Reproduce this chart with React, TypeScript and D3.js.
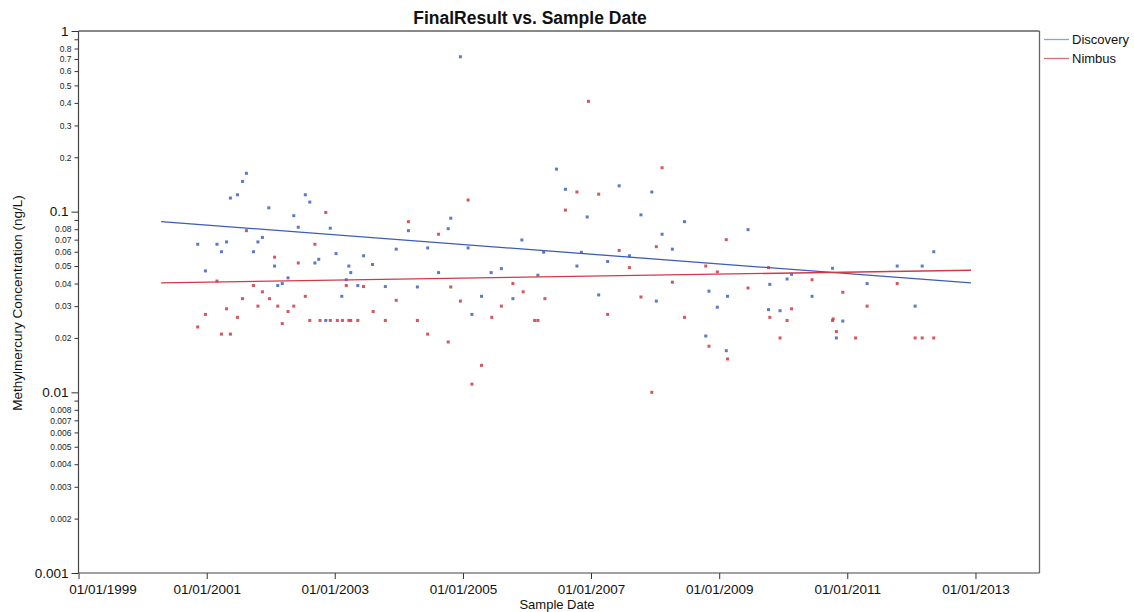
import * as d3 from "d3";
import { useEffect, useRef } from "react";

// sample dates as decimal years
const discoveryYears = [
  2000.86, 2000.98, 2001.16, 2001.23, 2001.31, 2001.37, 2001.48, 2001.56, 2001.62, 2001.73,
  2001.8, 2001.87, 2001.97, 2002.06, 2002.11, 2002.18, 2002.27, 2002.36, 2002.43, 2002.54,
  2002.61, 2002.69, 2002.75, 2002.86, 2002.93, 2003.02, 2003.11, 2003.18, 2003.22, 2003.25,
  2003.36, 2003.45, 2003.59, 2003.79, 2003.96, 2004.15, 2004.29, 2004.45, 2004.62, 2004.77,
  2004.81, 2004.96, 2005.08, 2005.14, 2005.29, 2005.44, 2005.6, 2005.78, 2005.92, 2006.17,
  2006.26, 2006.46, 2006.6, 2006.78, 2006.85, 2006.94, 2007.12, 2007.26, 2007.44, 2007.6,
  2007.78, 2007.95, 2008.02, 2008.11, 2008.27, 2008.46, 2008.79, 2008.84, 2008.97, 2009.11,
  2009.13, 2009.45, 2009.77, 2009.79, 2009.95, 2010.06, 2010.13, 2010.45, 2010.77, 2010.83,
  2010.93, 2011.31, 2011.78, 2012.06, 2012.17, 2012.35,
];
const discoveryValues = [
  0.066, 0.047, 0.066, 0.06, 0.068, 0.119, 0.124, 0.147, 0.163, 0.06,
  0.068, 0.072, 0.105, 0.05, 0.039, 0.04, 0.043, 0.095, 0.082, 0.124,
  0.113, 0.052, 0.0545, 0.025, 0.081, 0.0586, 0.034, 0.042, 0.05, 0.046,
  0.039, 0.057, 0.051, 0.0385, 0.062, 0.0785, 0.0383, 0.063, 0.046, 0.0805,
  0.092, 0.72, 0.063, 0.027, 0.034, 0.046, 0.0484, 0.033, 0.0697, 0.0445,
  0.0596, 0.172, 0.133, 0.05, 0.0596, 0.0935, 0.0346, 0.053, 0.139, 0.057,
  0.096, 0.1285, 0.032, 0.075, 0.062, 0.088, 0.0205, 0.0363, 0.0296, 0.017,
  0.034, 0.0795, 0.0287, 0.0396, 0.0283, 0.0424, 0.045, 0.034, 0.0486, 0.02,
  0.0248, 0.04, 0.05, 0.03, 0.05, 0.06,
];

const nimbusYears = [
  2000.86, 2000.98, 2001.16, 2001.23, 2001.31, 2001.37, 2001.48, 2001.56, 2001.62, 2001.73,
  2001.8, 2001.87, 2001.98, 2002.06, 2002.11, 2002.18, 2002.27, 2002.36, 2002.43, 2002.54,
  2002.61, 2002.69, 2002.77, 2002.86, 2002.93, 2003.04, 2003.12, 2003.18, 2003.22, 2003.25,
  2003.36, 2003.45, 2003.6, 2003.79, 2003.96, 2004.15, 2004.29, 2004.45, 2004.62, 2004.77,
  2004.81, 2004.96, 2005.08, 2005.14, 2005.29, 2005.45, 2005.6, 2005.78, 2005.94, 2006.12,
  2006.17, 2006.28, 2006.6, 2006.78, 2006.96, 2007.12, 2007.26, 2007.44, 2007.6, 2007.78,
  2007.95, 2008.02, 2008.11, 2008.27, 2008.46, 2008.79, 2008.84, 2008.97, 2009.11, 2009.13,
  2009.45, 2009.77, 2009.79, 2009.95, 2010.06, 2010.13, 2010.45, 2010.77, 2010.78, 2010.83,
  2010.93, 2011.13, 2011.31, 2011.78, 2012.06, 2012.17, 2012.35,
];
const nimbusValues = [
  0.023, 0.027, 0.0413, 0.021, 0.029, 0.021, 0.026, 0.033, 0.0785, 0.039,
  0.03, 0.036, 0.033, 0.056, 0.03, 0.024, 0.028, 0.03, 0.052, 0.034,
  0.025, 0.066, 0.025, 0.099, 0.025, 0.025, 0.025, 0.039, 0.025, 0.025,
  0.025, 0.0385, 0.028, 0.025, 0.0323, 0.088, 0.025, 0.021, 0.075, 0.019,
  0.0383, 0.032, 0.116, 0.0111, 0.0141, 0.026, 0.03, 0.04, 0.036, 0.025,
  0.025, 0.033, 0.102, 0.1285, 0.408, 0.125, 0.027, 0.061, 0.049, 0.0337,
  0.01, 0.064, 0.175, 0.0407, 0.026, 0.05, 0.018, 0.0464, 0.07, 0.0153,
  0.0378, 0.049, 0.026, 0.02, 0.025, 0.029, 0.042, 0.025, 0.0255, 0.0217,
  0.0358, 0.02, 0.03, 0.04, 0.02, 0.02, 0.02,
];

// fitted trend lines, ends
const trendYears = [2000.29, 2012.93];
const discoveryTrend = [0.0881, 0.0403];
const nimbusTrend = [0.0404, 0.0474];

const xTickYears = [1999, 2001, 2003, 2005, 2007, 2009, 2011, 2013];
const majorTicks = [0.001, 0.01, 0.1, 1];
const minorSteps = [2, 3, 4, 5, 6, 7, 8, 9];
const seriesNames = ["Discovery", "Nimbus"];

const lineColors = ["#3d5db5", "#cf3a48"];
const pointColors = ["#4a6bc3", "#d2434f"];
const legendColors = ["#8fa2d6", "#d9707c"];

const FONT = "'Liberation Sans', Arial, sans-serif";

function toDate(y) {
  const yr = Math.floor(y);
  const start = Date.UTC(yr, 0, 1);
  const end = Date.UTC(yr + 1, 0, 1);
  return new Date(start + (y - yr) * (end - start));
}

export default function App() {
  const svgRef = useRef(null);

  useEffect(() => {
    const svg = d3.select(svgRef.current);
    svg.selectAll("*").remove();

    const left = 78.5;
    const right = 1039.5;
    const top = 31;
    const bottom = 573;

    const x = d3.scaleUtc().domain([toDate(1999), toDate(2014)]).range([left, right]);
    const y = d3.scaleLog().domain([0.001, 1]).range([bottom, top]);

    // title
    svg
      .append("text")
      .attr("x", 530)
      .attr("y", 24)
      .attr("text-anchor", "middle")
      .attr("font-family", FONT)
      .attr("font-weight", "bold")
      .attr("font-size", 17.5)
      .attr("fill", "#111")
      .text("FinalResult vs. Sample Date");

    // x axis
    const xAxis = d3
      .axisBottom(x)
      .tickValues(xTickYears.map(toDate))
      .tickFormat(d3.utcFormat("%m/%d/%Y"))
      .tickSize(6)
      .tickSizeOuter(0)
      .tickPadding(5);
    const gx = svg.append("g").attr("transform", `translate(0,${bottom})`).call(xAxis);
    gx.select(".domain").remove();
    gx.selectAll("line").attr("stroke", "#333");
    gx.selectAll("text")
      .attr("font-family", FONT)
      .attr("font-size", 13.5)
      .attr("fill", "#111")
      .attr("dx", (_, i) => (i === 0 ? 24 : 0));

    // y axis, major decades
    const gyMajor = svg
      .append("g")
      .attr("transform", `translate(${left},0)`)
      .call(
        d3.axisLeft(y).tickValues(majorTicks).tickSize(7).tickSizeOuter(0).tickPadding(3)
          .tickFormat((d) => String(d))
      );
    gyMajor.select(".domain").remove();
    gyMajor.selectAll("line").attr("stroke", "#333");
    gyMajor.selectAll("text").attr("font-family", FONT).attr("font-size", 13.5).attr("fill", "#111");

    // y axis, minor ticks
    const minorTicks = majorTicks.slice(0, -1).flatMap((d) =>
      minorSteps.map((m) => +(d * m).toPrecision(1))
    );
    const gyMinor = svg
      .append("g")
      .attr("transform", `translate(${left},0)`)
      .call(
        d3.axisLeft(y).tickValues(minorTicks).tickSize(4).tickSizeOuter(0).tickPadding(3)
          .tickFormat((d) => (String(d).includes("9") ? "" : String(d)))
      );
    gyMinor.select(".domain").remove();
    gyMinor.selectAll("line").attr("stroke", "#333");
    gyMinor.selectAll("text").attr("font-family", FONT).attr("font-size", 8.5).attr("fill", "#222");

    // frame
    const frame = svg.append("g").attr("fill", "none");
    frame.append("line").attr("x1", left).attr("x2", right).attr("y1", top).attr("y2", top).attr("stroke", "#111");
    frame.append("line").attr("x1", right).attr("x2", right).attr("y1", top).attr("y2", bottom).attr("stroke", "#666").attr("stroke-width", 1.3);
    frame.append("line").attr("x1", left).attr("x2", left).attr("y1", top).attr("y2", bottom).attr("stroke", "#444").attr("stroke-width", 1.2);
    frame.append("line").attr("x1", left).attr("x2", right).attr("y1", bottom).attr("y2", bottom).attr("stroke", "#444").attr("stroke-width", 1.2);

    // axis titles
    svg
      .append("text")
      .attr("x", 557)
      .attr("y", 609)
      .attr("text-anchor", "middle")
      .attr("font-family", FONT)
      .attr("font-size", 13)
      .attr("fill", "#111")
      .text("Sample Date");

    svg
      .append("text")
      .attr("transform", "translate(22,303) rotate(-90)")
      .attr("text-anchor", "middle")
      .attr("font-family", FONT)
      .attr("font-size", 13.5)
      .attr("fill", "#111")
      .text("Methylmercury Concentration (ng/L)");

    // points
    const pointSets = [
      discoveryYears.map((yr, i) => [yr, discoveryValues[i]]),
      nimbusYears.map((yr, i) => [yr, nimbusValues[i]]),
    ];
    pointSets.forEach((pts, s) => {
      svg
        .append("g")
        .selectAll("rect")
        .data(pts)
        .join("rect")
        .attr("x", (d) => x(toDate(d[0])) - 1.5)
        .attr("y", (d) => y(d[1]) - 1.5)
        .attr("width", 3)
        .attr("height", 3)
        .attr("fill", pointColors[s])
        .attr("opacity", 0.9);
    });

    // trend lines
    const line = d3
      .line()
      .x((d) => x(toDate(d[0])))
      .y((d) => y(d[1]));
    [discoveryTrend, nimbusTrend].forEach((vals, s) => {
      svg
        .append("path")
        .attr("d", line(trendYears.map((yr, i) => [yr, vals[i]])))
        .attr("fill", "none")
        .attr("stroke", lineColors[s])
        .attr("stroke-width", 1.3);
    });

    // legend
    const legend = svg.append("g").attr("transform", "translate(1044,0)");
    seriesNames.forEach((name, i) => {
      const ly = 39.5 + i * 19;
      legend
        .append("line")
        .attr("x1", 0)
        .attr("x2", 25)
        .attr("y1", ly)
        .attr("y2", ly)
        .attr("stroke", legendColors[i])
        .attr("stroke-width", 1.3);
      legend
        .append("text")
        .attr("x", 28)
        .attr("y", ly + 4.5)
        .attr("font-family", FONT)
        .attr("font-size", 13)
        .attr("fill", "#111")
        .text(name);
    });
  }, []);

  return (
    <svg
      ref={svgRef}
      width={1134}
      height={612}
      style={{ position: "absolute", left: 0, top: 0, background: "#fff" }}
    />
  );
}
